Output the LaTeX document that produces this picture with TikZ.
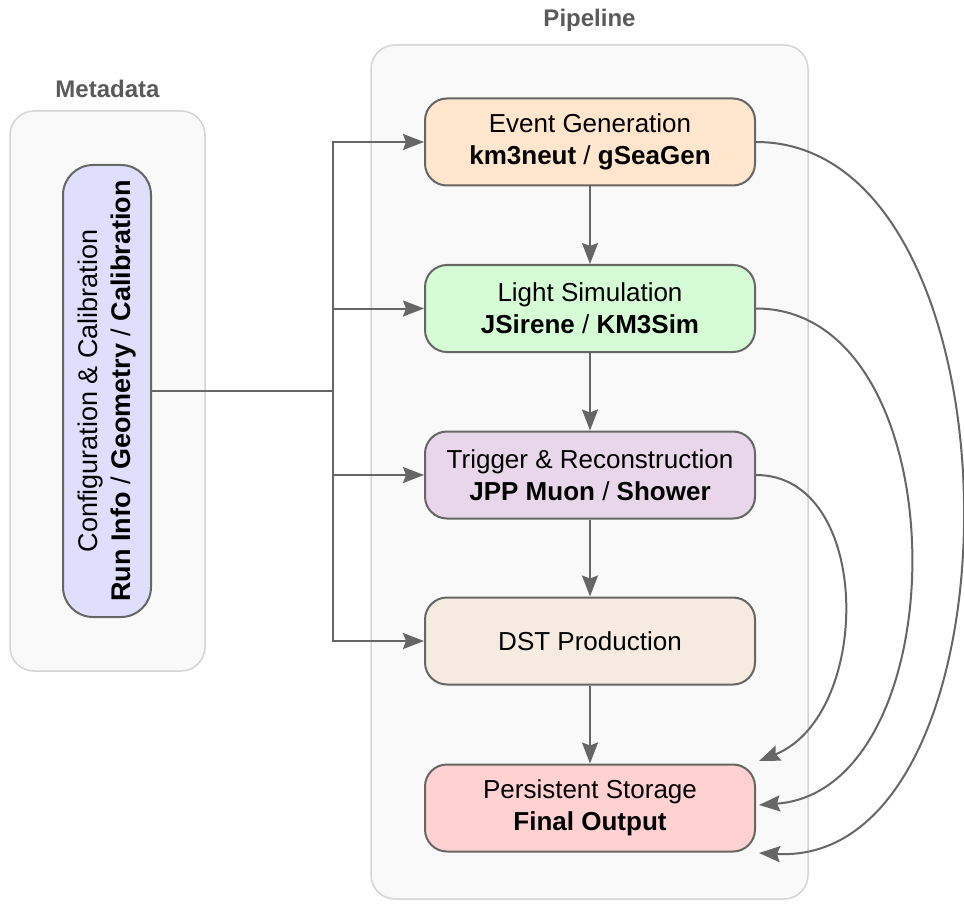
\documentclass[tikz,border=0pt]{standalone}
\usepackage{fontspec}
\setmainfont{Liberation Sans}
\usetikzlibrary{arrows.meta,calc}
\definecolor{linec}{HTML}{666666}
\definecolor{contfill}{HTML}{F9F9F9}
\definecolor{contline}{HTML}{D4D4D4}
\definecolor{labc}{HTML}{5A5A5A}
\definecolor{egfill}{HTML}{FFE6CC}
\definecolor{lsfill}{HTML}{D6FCD6}
\definecolor{trfill}{HTML}{E9D6EA}
\definecolor{dstfill}{HTML}{F5EBE0}
\definecolor{psfill}{HTML}{FFD1D1}
\definecolor{cfgfill}{HTML}{DFDFFD}
\begin{document}
\begin{tikzpicture}[x=1pt,y=-1pt,
  container/.style={draw=contline,fill=contfill,line width=1.5pt,rounded corners=24pt},
  grouplabel/.style={font=\fontsize{24}{28}\selectfont\bfseries,text=labc,anchor=base,inner sep=0pt},
  stage/.style={draw=linec,line width=2pt,rounded corners=22pt,minimum width=330pt,minimum height=87pt,
    align=center,font=\fontsize{26}{32}\selectfont,text=black,inner sep=0pt},
  conn/.style={draw=linec,line width=2pt},
  arr/.style={conn,-{Stealth[length=21pt,width=16pt,inset=3pt]}}
]
\useasboundingbox (0,0) rectangle (964,904);
% containers
\draw[container] (10,111) rectangle (205,671);
\draw[container] (371,45) rectangle (808,899);
\node[grouplabel] (metalab) at (107.5,98) {Metadata};
\node[grouplabel] (pipelab) at (589.5,27) {Pipeline};
% config node
\node[draw=linec,line width=2pt,fill=cfgfill,rounded corners=30pt,minimum width=88pt,minimum height=452pt,inner sep=0pt]
  (cfg) at (107,391) {\rotatebox{90}{\fontsize{27}{33}\selectfont\begin{tabular}{@{}c@{}}Configuration \& Calibration\\ \textbf{Run Info} / \textbf{Geometry} / \textbf{Calibration}\end{tabular}}};
% stages
\node[stage,fill=egfill] (eg) at (590,142) {Event Generation\\ \textbf{km3neut} / \textbf{gSeaGen}};
\node[stage,fill=lsfill] (ls) at (590,308.5) {Light Simulation\\ \textbf{JSirene} / \textbf{KM3Sim}};
\node[stage,fill=trfill] (tr) at (590,475) {Trigger \& Reconstruction\\ \textbf{JPP Muon} / \textbf{Shower}};
\node[stage,fill=dstfill] (dst) at (590,641) {DST Production};
\node[stage,fill=psfill] (ps) at (590,808) {Persistent Storage\\ \textbf{Final Output}};
% bus from config
\coordinate (bus) at (333,391);
\draw[conn] (cfg.east) -- (bus);
\draw[arr] (bus) |- (eg.west);
\draw[arr] (bus) |- (ls.west);
\draw[arr] (bus) |- (tr.west);
\draw[arr] (bus) |- (dst.west);
% vertical flow
\draw[arr] (eg.south) -- (ls.north);
\draw[arr] (ls.south) -- (tr.north);
\draw[arr] (tr.south) -- (dst.north);
\draw[arr] (dst.south) -- (ps.north);
% curved outputs to storage
\coordinate (psA) at ($(ps.east)+(3,-47)$);
\coordinate (psB) at ($(ps.east)+(3,-3)$);
\coordinate (psC) at ($(ps.east)+(3,45)$);
\draw[arr] (tr.east) .. controls +(117,0) and +(114,-46) .. (psA);
\draw[arr] (ls.east) .. controls +(205,0) and +(202,-15) .. (psB);
\draw[arr] (eg.east) .. controls +(274,0) and +(271,15) .. (psC);
\end{tikzpicture}
\end{document}
